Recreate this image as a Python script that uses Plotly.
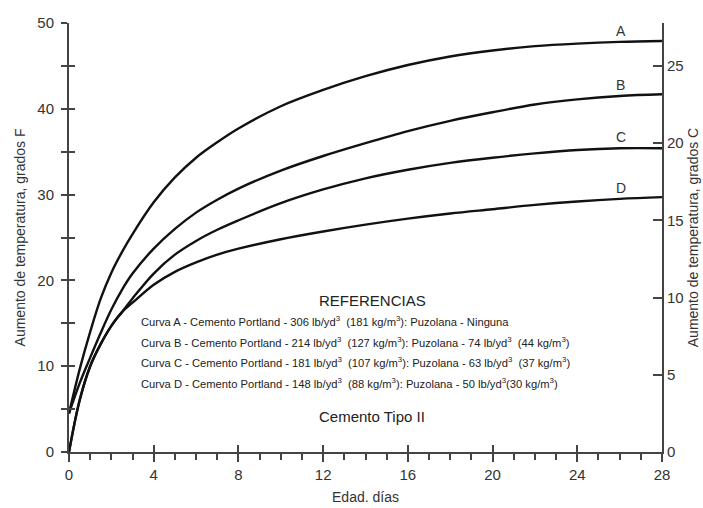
import plotly.graph_objects as go

# ---- data ----
days = [0, 0.5, 1, 1.5, 2, 2.5, 3, 4, 5, 6, 7, 8, 10, 12, 14, 16, 18, 20, 22, 24, 26, 28]
curve_a = [4.5, 9.6, 14.0, 17.9, 20.9, 23.3, 25.4, 29.1, 32.0, 34.3, 36.1, 37.7, 40.3, 42.2, 43.8, 45.1, 46.1, 46.8, 47.3, 47.6, 47.8, 47.9]
curve_b = [4.5, 8.0, 11.0, 13.9, 16.6, 18.9, 20.8, 23.7, 26.0, 27.9, 29.4, 30.7, 32.8, 34.5, 36.0, 37.4, 38.6, 39.6, 40.5, 41.1, 41.5, 41.7]
curve_c = [0.0, 6.0, 10.0, 12.6, 14.7, 16.3, 17.9, 20.8, 23.0, 24.6, 25.9, 27.0, 29.0, 30.6, 31.9, 32.9, 33.7, 34.3, 34.8, 35.2, 35.4, 35.4]
curve_d = [0.0, 6.0, 10.0, 12.6, 14.7, 16.3, 17.4, 19.5, 21.0, 22.1, 23.0, 23.7, 24.8, 25.7, 26.5, 27.2, 27.8, 28.3, 28.8, 29.2, 29.5, 29.7]
curve_names = ["A", "B", "C", "D"]
label_day = 26

x_major = [0, 4, 8, 12, 16, 20, 24, 28]
yF_ticks = [0, 5, 10, 15, 20, 25, 30, 35, 40, 45, 50]
yF_labels = ["0", "", "10", "", "20", "", "30", "", "40", "", "50"]
yC_ticks = [0, 5, 10, 15, 20, 25]

ref_title = "REFERENCIAS"
ref_lines = [
    "Curva A - Cemento Portland - 306 lb/yd<sup>3</sup>  (181 kg/m<sup>3</sup>): Puzolana - Ninguna",
    "Curva B - Cemento Portland - 214 lb/yd<sup>3</sup>  (127 kg/m<sup>3</sup>): Puzolana - 74 lb/yd<sup>3</sup>  (44 kg/m<sup>3</sup>)",
    "Curva C - Cemento Portland - 181 lb/yd<sup>3</sup>  (107 kg/m<sup>3</sup>): Puzolana - 63 lb/yd<sup>3</sup>  (37 kg/m<sup>3</sup>)",
    "Curva D - Cemento Portland - 148 lb/yd<sup>3</sup>  (88 kg/m<sup>3</sup>): Puzolana - 50 lb/yd<sup>3</sup>(30 kg/m<sup>3</sup>)",
]
cement_type = "Cemento Tipo II"

FONT = "Liberation Sans, Arial, sans-serif"
AX = "#444444"
TXT = "#333333"

fig = go.Figure()
curves = [curve_a, curve_b, curve_c, curve_d]
for name, vals in zip(curve_names, curves):
    fig.add_trace(go.Scatter(
        x=days, y=vals, mode="lines", name=name,
        line=dict(color="#111111", width=2.4, shape="spline", smoothing=1.0),
        showlegend=False, hoverinfo="skip",
    ))
    fig.add_annotation(
        x=label_day, y=vals[days.index(label_day)], xref="x", yref="y",
        text=name, showarrow=False, yanchor="bottom", yshift=1, xshift=1,
        font=dict(family=FONT, size=14, color=TXT),
    )

# dummy traces to activate the right (Celsius) axis and overlay tick axes
fig.add_trace(go.Scatter(x=[None], y=[None], yaxis="y2", showlegend=False))
fig.add_trace(go.Scatter(x=[None], y=[None], xaxis="x2", yaxis="y3", showlegend=False))

fig.add_annotation(
    x=0.511, y=0.354, xref="paper", yref="paper", text=ref_title, showarrow=False,
    font=dict(family=FONT, size=15, color="#222222"),
)
ref_y = [0.2844, 0.2354, 0.1888, 0.1399]
for txt, yy in zip(ref_lines, ref_y):
    fig.add_annotation(
        x=0.118, y=yy, xref="paper", yref="paper", text=txt, showarrow=False,
        xanchor="left", font=dict(family=FONT, size=11.2, color="#222222"),
    )
fig.add_annotation(
    x=0.511, y=0.058, xref="paper", yref="paper", text=cement_type, showarrow=False,
    font=dict(family=FONT, size=15, color="#222222"),
)

tickfont = dict(family=FONT, size=15, color=TXT)

fig.update_layout(
    width=703, height=508,
    margin=dict(l=69, r=41, t=23, b=56),
    paper_bgcolor="white", plot_bgcolor="white",
    font=dict(family=FONT, color=TXT),
    xaxis=dict(
        range=[0, 28], tickvals=x_major, ticks="outside", ticklen=8, tickwidth=1.5,
        tickcolor=AX, showline=True, linecolor=AX, linewidth=2, showgrid=False,
        zeroline=False, tickfont=tickfont, automargin=False,
        minor=dict(dtick=1, ticks="outside", ticklen=6, tickwidth=1.5, tickcolor=AX, showgrid=False),
        title=dict(text="Edad. días", font=dict(family=FONT, size=14, color=TXT), standoff=10),
    ),
    xaxis2=dict(
        range=[0, 28], overlaying="x", anchor="y", side="bottom", tickvals=x_major,
        ticks="inside", ticklen=7, tickwidth=1.5, tickcolor=AX, showticklabels=False,
        showline=False, showgrid=False, zeroline=False, automargin=False,
    ),
    yaxis=dict(
        range=[0, 50], tickvals=yF_ticks, ticktext=yF_labels, ticks="outside",
        ticklen=6, tickwidth=1.5, tickcolor=AX, showline=True, linecolor=AX,
        linewidth=2, showgrid=False, zeroline=False, tickfont=tickfont,
        ticklabelstandoff=4, automargin=False,
        title=dict(text="Aumento de temperatura, grados F",
                   font=dict(family=FONT, size=14, color=TXT), standoff=8),
    ),
    yaxis3=dict(
        range=[0, 50], overlaying="y", anchor="x", side="left", tickvals=yF_ticks,
        ticks="inside", ticklen=6, tickwidth=1.5, tickcolor=AX, showticklabels=False,
        showline=False, showgrid=False, zeroline=False, automargin=False,
    ),
    yaxis2=dict(
        range=[0, 50 * 5 / 9], overlaying="y", anchor="x", side="right",
        tickvals=yC_ticks, ticks="inside", ticklen=9, tickwidth=1.5, tickcolor=AX,
        showline=True, linecolor=AX, linewidth=2, showgrid=False, zeroline=False,
        tickfont=tickfont, automargin=False,
        title=dict(text="Aumento de temperatura, grados C",
                   font=dict(family=FONT, size=14, color=TXT), standoff=6),
    ),
)

fig.write_html("out.html")
